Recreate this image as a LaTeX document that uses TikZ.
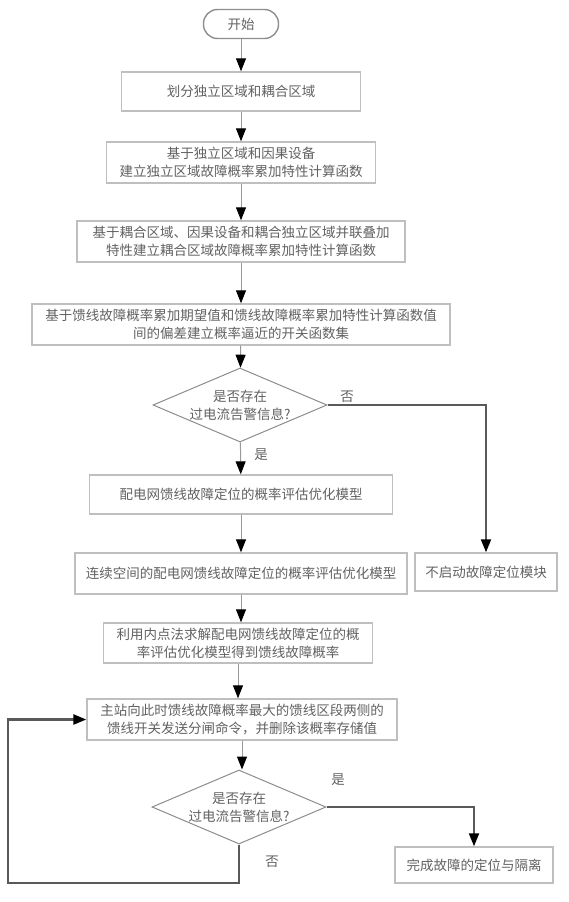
\documentclass[tikz,border=0pt]{standalone}
\usepackage{fontspec}
\newfontfamily\cjk{Noto Sans CJK SC}
\usetikzlibrary{shapes.geometric,arrows.meta}

\begin{document}
\begin{tikzpicture}[x=1pt,y=-1pt,
  my text/.style={
    font=\cjk\fontsize{13.5}{18}\selectfont,
    text=black!62,
  },
  my box/.style={
    my text,
    draw=black!25,
    line width=1.4pt,
    align=center,
    inner sep=0pt,
  },
  my decision/.style={
    my box,
    diamond,
    aspect=2.35,
    draw=black!45,
    line width=1pt,
    minimum width=174pt,
    minimum height=74pt,
  },
  my line/.style={
    draw=black!40,
    line width=1pt,
    -{Triangle[width=10pt,length=13pt,color=black]},
  },
  my branch/.style={
    my line,
    draw=black!65,
    line width=2pt,
  }]
  \useasboundingbox (0,0) rectangle (569,902);
  \node [my box, rounded corners=14pt, draw=black!45, minimum width=75pt, minimum height=29pt] (start) at (241,24) {开始};
  \node [my box, minimum width=239pt, minimum height=39pt] (divide) at (241,91.5) {划分独立区域和耦合区域};
  \node [my box, minimum width=269pt, minimum height=41pt] (indep) at (241,162.5) {基于独立区域和因果设备\\建立独立区域故障概率累加特性计算函数};
  \node [my box, minimum width=328pt, minimum height=41pt] (coupled) at (241,241.5) {基于耦合区域、因果设备和耦合独立区域并联叠加\\特性建立耦合区域故障概率累加特性计算函数};
  \node [my box, minimum width=418pt, minimum height=41pt] (switch) at (241,324.5) {基于馈线故障概率累加期望值和馈线故障概率累加特性计算函数值\\间的偏差建立概率逼近的开关函数集};
  \node [my decision] (alarm1) at (240,405) {是否存在\\过电流告警信息?};
  \node [my box, minimum width=303pt, minimum height=39pt] (model) at (241,494.5) {配电网馈线故障定位的概率评估优化模型};
  \node [my box, minimum width=332pt, minimum height=41pt] (contmodel) at (241,573.5) {连续空间的配电网馈线故障定位的概率评估优化模型};
  \node [my box, minimum width=142pt, minimum height=38pt] (nostart) at (486,572) {不启动故障定位模块};
  \node [my box, minimum width=269pt, minimum height=40pt] (solve) at (238,643) {利用内点法求解配电网馈线故障定位的概\\率评估优化模型得到馈线故障概率};
  \node [my box, minimum width=310pt, minimum height=41pt] (trip) at (242,719.5) {主站向此时馈线故障概率最大的馈线区段两侧的\\馈线开关发送分闸命令，并删除该概率存储值};
  \node [my decision] (alarm2) at (239,807) {是否存在\\过电流告警信息?};
  \node [my box, minimum width=158pt, minimum height=36pt] (done) at (474,865) {完成故障的定位与隔离};
  \coordinate (loop) at (8,883);

  \draw [my line] (start) -- (divide);
  \draw [my line] (divide) -- (indep);
  \draw [my line] (indep) -- (coupled);
  \draw [my line] (coupled) -- (switch);
  \draw [my line] (switch) -- (alarm1);
  \draw [my line] (alarm1) -- node [my text, pos=0.4, right=10pt] (yes1) {是} (model);
  \draw [my line] (model) -- (contmodel);
  \draw [my line] (contmodel.south) -- (contmodel.south |- solve.north);
  \draw [my line] (solve.south) -- (solve.south |- trip.north);
  \draw [my line] (trip.south) -- (trip.south |- alarm2.north);
  \draw [my branch] (alarm1.east) -| (nostart.north);
  \node [my text] (no1) at (347,397) {否};
  \draw [my branch] (alarm2.east) -| (done.north);
  \node [my text] (yes2) at (338,780) {是};
  \draw [my branch, line width=2.5pt] (alarm2.south) |- (loop) |- (trip.west);
  \node [my text] (no2) at (272,862) {否};
\end{tikzpicture}
\end{document}
